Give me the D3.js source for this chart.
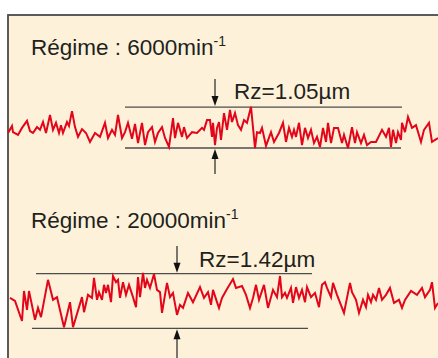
<!DOCTYPE html>
<html>
<head>
<meta charset="utf-8">
<script src="https://cdn.jsdelivr.net/npm/d3@7"></script>
<style>
  body { margin: 0; background: #fff; }
  svg { display: block; }
</style>
</head>
<body>
<svg id="chart"></svg>
<script>
// profile readings: [position along traverse, height in µm]
var profile6000 = [
  [0,-0.14],[4,0.04],[5,-0.12],[10,-0.19],[14,-0.01],[19,0.17],[22,-0.09],[25,-0.14],[29,0.01],[32,-0.06],
  [35,0.14],[38,-0.14],[42,0.32],[45,-0.06],[48,0.12],[51,-0.14],[53,0.06],[55,-0.14],[59,0.14],[61,0.04],
  [64,0.42],[67,0.01],[70,-0.24],[74,-0.04],[78,-0.14],[82,-0.37],[87,-0.14],[92,-0.24],[97,0.12],[100,-0.27],
  [104,-0.06],[107,-0.19],[110,0.32],[114,-0.27],[117,-0.12],[120,0.12],[124,-0.29],[127,0.09],[130,-0.40],[134,0.12],
  [137,-0.45],[140,-0.12],[144,0.01],[147,-0.37],[150,-0.14],[154,0.01],[157,-0.27],[161,-0.50],[165,0.24],[167,-0.27],
  [170,0.12],[174,-0.24],[176,0.01],[179,-0.27],[184,-0.12],[189,-0.14],[194,-0.01],[196,-0.06],[199,0.19],[202,0.19],
  [204,-0.24],[205,0.12],[207,-0.45],[209,-0.01],[211,0.14],[213,-0.32],[216,0.37],[219,-0.06],[222,0.45],[224,0.14],
  [227,0.37],[230,0.06],[233,-0.06],[236,0.19],[239,0.12],[243,0.53],[247,-0.53],[249,-0.12],[252,-0.14],[254,-0.01],
  [258,-0.47],[263,-0.12],[266,-0.37],[271,-0.14],[275,0.12],[278,-0.37],[281,-0.01],[284,-0.24],[286,-0.06],[288,-0.24],
  [291,0.12],[294,-0.45],[297,-0.01],[300,-0.27],[303,-0.06],[306,-0.40],[309,-0.24],[312,-0.50],[315,-0.01],[318,-0.37],
  [320,0.12],[323,-0.40],[326,-0.01],[330,-0.01],[334,-0.40],[336,-0.19],[340,-0.53],[344,0.01],[347,-0.40],[349,-0.12],
  [353,-0.40],[356,-0.19],[359,-0.45],[363,-0.37],[368,-0.37],[374,-0.06],[378,-0.24],[381,-0.01],[383,-0.50],[385,-0.06],
  [388,-0.40],[390,-0.12],[393,-0.32],[394,0.12],[397,-0.12],[400,0.27],[404,-0.01],[408,0.06],[413,-0.37],[416,-0.06],
  [421,0.12],[424,-0.37],[430,-0.27]
];

var profile20000 = [
  [2,0.08],[7,0.00],[14,-0.52],[16,0.26],[19,-0.23],[21,0.26],[27,-0.49],[30,-0.18],[33,-0.42],[40,0.55],
  [45,0.03],[49,0.10],[56,-0.68],[62,-0.03],[65,-0.68],[74,0.10],[76,-0.29],[80,0.16],[84,0.08],[86,0.60],
  [89,0.03],[91,0.23],[94,0.03],[96,0.42],[98,0.21],[100,0.42],[103,-0.03],[105,0.65],[108,0.49],[110,0.55],
  [112,0.08],[115,0.49],[118,0.16],[121,0.42],[125,0.10],[128,-0.16],[130,0.62],[132,0.10],[135,0.73],[137,0.34],
  [139,0.55],[142,0.34],[146,0.70],[149,0.29],[152,0.23],[154,-0.31],[159,0.47],[162,0.10],[165,0.21],[169,-0.36],
  [172,-0.10],[175,-0.18],[180,0.21],[185,-0.03],[192,0.36],[196,0.08],[200,0.23],[203,-0.10],[205,0.29],[209,-0.03],
  [211,-0.18],[214,0.08],[219,0.31],[225,0.57],[228,0.34],[234,0.39],[238,0.16],[242,-0.18],[245,0.08],[248,0.42],
  [251,0.03],[256,0.42],[260,-0.18],[265,0.29],[269,0.10],[272,0.65],[274,0.10],[277,0.21],[279,0.08],[283,0.34],
  [285,-0.05],[288,0.36],[291,0.08],[294,0.29],[297,-0.03],[299,0.36],[303,0.10],[307,0.21],[311,-0.16],[314,0.42],
  [317,0.49],[319,0.34],[323,0.10],[325,0.47],[329,0.16],[336,-0.31],[342,0.47],[344,0.23],[348,0.03],[351,-0.31],
  [355,0.03],[358,-0.16],[360,0.16],[363,-0.03],[365,0.16],[368,0.03],[371,0.34],[374,0.03],[378,0.16],[382,0.34],
  [386,-0.05],[391,0.03],[394,-0.18],[397,0.03],[403,0.26],[409,0.16],[414,0.34],[417,0.10],[422,0.29],[424,0.49],
  [427,-0.18],[430,-0.05]
];

var speeds = ["6000", "20000"];
var rzValues = [1.05, 1.42];
var profiles = [profile6000, profile20000];

var W = 438, H = 358;
var svg = d3.select("#chart").attr("width", W).attr("height", H);

var panelLeft = 8, panelTop = 15;
var font = "Liberation Sans, Arial, Helvetica, sans-serif";

svg.append("rect")
  .attr("x", panelLeft).attr("y", panelTop)
  .attr("width", W - panelLeft + 5).attr("height", H - panelTop + 5)
  .attr("fill", "#fdf2d9")
  .attr("stroke", "#4a4a4a")
  .attr("stroke-width", 1.8);

var x = d3.scaleLinear().domain([0, 430]).range([panelLeft, W]);

// layout of the two blocks
var blocks = [
  {center: 127.5, pxPerUm: 39, titleY: 55, arrowPos: 207, lineUp: [117, 394], lineDn: [117, 393],
   labelX: 234, labelY: 99, shaftTop: 79, shaftBot: 174},
  {center: 301, pxPerUm: 38.5, titleY: 228, arrowPos: 169, lineUp: [28, 304], lineDn: [24, 300],
   labelX: 199, labelY: 267, shaftTop: 246, shaftBot: 362}
];

var line = d3.line();

blocks.forEach(function(b, i) {
  var y = d3.scaleLinear().domain([-1, 1]).range([b.center + b.pxPerUm, b.center - b.pxPerUm]);
  var g = svg.append("g");
  var rz = rzValues[i];
  var yUp = y(rz / 2), yDn = y(-rz / 2);

  // title with superscript
  var t = g.append("text")
    .attr("x", 31).attr("y", b.titleY)
    .style("font-family", font).style("font-size", "22.5px")
    .attr("fill", "#231f20");
  t.append("tspan").text("Régime : " + speeds[i] + "min");
  t.append("tspan").attr("dy", -9).style("font-size", "14px").text("-1");

  // Rz band lines
  g.append("line")
    .attr("x1", x(b.lineUp[0])).attr("x2", x(b.lineUp[1]))
    .attr("y1", yUp).attr("y2", yUp)
    .attr("stroke", "#4d4d4d").attr("stroke-width", 1.3);
  g.append("line")
    .attr("x1", x(b.lineDn[0])).attr("x2", x(b.lineDn[1]))
    .attr("y1", yDn).attr("y2", yDn)
    .attr("stroke", "#4d4d4d").attr("stroke-width", 1.3);

  // arrows
  var ax = x(b.arrowPos);
  g.append("line").attr("x1", ax).attr("x2", ax).attr("y1", b.shaftTop).attr("y2", yUp - 8)
    .attr("stroke", "#111").attr("stroke-width", 1.1);
  g.append("path")
    .attr("d", line([[ax - 3.5, yUp - 11], [ax + 3.5, yUp - 11], [ax, yUp - 1]]))
    .attr("fill", "#111");
  g.append("line").attr("x1", ax).attr("x2", ax).attr("y1", yDn + 8).attr("y2", b.shaftBot)
    .attr("stroke", "#111").attr("stroke-width", 1.1);
  g.append("path")
    .attr("d", line([[ax - 3.5, yDn + 11], [ax + 3.5, yDn + 11], [ax, yDn + 1]]))
    .attr("fill", "#111");

  g.append("text")
    .attr("x", b.labelX).attr("y", b.labelY)
    .style("font-family", font).style("font-size", "22.5px")
    .attr("fill", "#231f20")
    .text("Rz=" + rz.toFixed(2) + "µm");

  // surface profile
  var profLine = d3.line()
    .x(function(d) { return x(d[0]); })
    .y(function(d) { return y(d[1]); });
  g.append("path")
    .datum(profiles[i])
    .attr("d", profLine)
    .attr("fill", "none")
    .attr("stroke", "#e3061a")
    .attr("stroke-width", 2)
    .attr("stroke-linejoin", "miter");
});
</script>
</body>
</html>
